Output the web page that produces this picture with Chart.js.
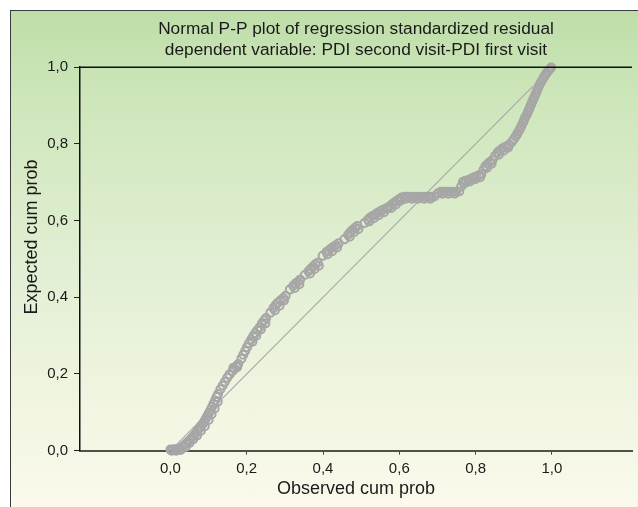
<!DOCTYPE html>
<html>
<head>
<meta charset="utf-8">
<script src="https://cdn.jsdelivr.net/npm/chart.js@4.4.1/dist/chart.umd.min.js"></script>
<style>
  html, body { margin: 0; padding: 0; overflow: hidden; background: #fff; }
  #frame {
    position: absolute; left: 10px; top: 10px;
    width: 700px; height: 520px;
    border: 1px solid #3c3c3c;
    background: linear-gradient(#bedea9 0%, #d0e7bd 20%, #e2efd4 50%, #f3f6e3 80%, #fdfbef 100%);
  }
  #chart { position: absolute; left: 0; top: 0; }
</style>
</head>
<body>
<div id="frame"><canvas id="chart" width="627" height="496"></canvas></div>
<script>
// titles
var titleLines = [
    "Normal P-P plot of regression standardized residual",
    "dependent variable: PDI second visit-PDI first visit"
];
var xTitle = "Observed cum prob";
var yTitle = "Expected cum prob";

// tick values and labels
var xTickValues = [0, 0.2, 0.4, 0.6, 0.8, 1.0];
var yTickValues = [0, 0.2, 0.4, 0.6, 0.8, 1.0];
var tickLabels = ["0,0", "0,2", "0,4", "0,6", "0,8", "1,0"];

// reference diagonal
var refLine = [0.01, 0.95];

// points (the last rows are the overlapping ones inside the solid clumps)
var observed = [
    0.000, 0.006, 0.012, 0.018, 0.024, 0.030, 0.036, 0.041, 0.046, 0.051, 0.056, 0.061, 0.066, 0.071,
    0.076, 0.080, 0.085, 0.089, 0.093, 0.097, 0.101, 0.105, 0.109, 0.113, 0.117, 0.121, 0.125,
    0.131, 0.137, 0.143, 0.149, 0.155, 0.163, 0.168, 0.173, 0.178,
    0.186, 0.191, 0.196, 0.201, 0.206, 0.212, 0.217, 0.222, 0.228, 0.234, 0.240, 0.246, 0.251,
    0.262, 0.270, 0.276, 0.282, 0.289, 0.296, 0.302, 0.313, 0.322, 0.328, 0.334, 0.340,
    0.352, 0.362, 0.368, 0.374, 0.380, 0.386, 0.399, 0.409, 0.415, 0.421, 0.428, 0.434, 0.441,
    0.456, 0.466, 0.472, 0.478, 0.484, 0.490, 0.509, 0.518, 0.524, 0.530, 0.537, 0.543, 0.550, 0.557,
    0.576, 0.582, 0.588, 0.594, 0.600, 0.606,
    0.613, 0.621, 0.629, 0.637, 0.645, 0.653, 0.661, 0.669, 0.677, 0.685, 0.692,
    0.701, 0.709, 0.717, 0.725, 0.733, 0.741, 0.749, 0.757,
    0.762, 0.767, 0.774, 0.781, 0.788, 0.795, 0.802, 0.809, 0.815,
    0.821, 0.826, 0.832, 0.838, 0.844, 0.851, 0.858, 0.864, 0.870, 0.876, 0.882, 0.888,
    0.895, 0.900, 0.905, 0.909, 0.913, 0.917, 0.920, 0.924, 0.927, 0.930, 0.934, 0.937, 0.940,
    0.943, 0.946, 0.949, 0.952, 0.955, 0.958, 0.961, 0.964, 0.967, 0.971, 0.975, 0.979, 0.983,
    0.987, 0.991, 0.995, 0.998,
    0.003, 0.015, 0.027, 0.040, 0.050, 0.060, 0.070, 0.080, 0.090, 0.100, 0.108, 0.116, 0.124,
    0.165, 0.175, 0.215, 0.225, 0.237, 0.249, 0.274, 0.286, 0.298, 0.326, 0.338,
    0.366, 0.378, 0.389, 0.412, 0.424, 0.437, 0.470, 0.482, 0.493,
    0.521, 0.533, 0.546, 0.560, 0.566, 0.570, 0.579, 0.591, 0.603,
    0.617, 0.633, 0.649, 0.665, 0.681, 0.713, 0.729, 0.745,
    0.771, 0.785, 0.799, 0.812, 0.830, 0.842, 0.861, 0.873, 0.885
];
var expected = [
    0.003, 0.003, 0.004, 0.004, 0.006, 0.009, 0.014, 0.018, 0.023, 0.028, 0.033, 0.039, 0.045, 0.052,
    0.058, 0.064, 0.070, 0.077, 0.084, 0.091, 0.098, 0.106, 0.114, 0.122, 0.131, 0.140, 0.148,
    0.160, 0.170, 0.180, 0.190, 0.199, 0.208, 0.214, 0.220, 0.226,
    0.240, 0.250, 0.260, 0.270, 0.280, 0.290, 0.298, 0.306, 0.314, 0.322, 0.332, 0.340, 0.346,
    0.360, 0.372, 0.380, 0.386, 0.392, 0.398, 0.404, 0.420, 0.430, 0.436, 0.440, 0.446,
    0.458, 0.468, 0.474, 0.480, 0.486, 0.490, 0.508, 0.518, 0.522, 0.527, 0.532, 0.536, 0.541,
    0.551, 0.563, 0.570, 0.576, 0.581, 0.586, 0.594, 0.603, 0.608, 0.612, 0.616, 0.620, 0.624, 0.628,
    0.638, 0.643, 0.648, 0.652, 0.656, 0.660,
    0.662, 0.662, 0.662, 0.662, 0.662, 0.662, 0.662, 0.662, 0.662, 0.662, 0.663,
    0.671, 0.675, 0.675, 0.675, 0.675, 0.675, 0.675, 0.676,
    0.689, 0.701, 0.704, 0.706, 0.709, 0.712, 0.715, 0.718, 0.721,
    0.733, 0.742, 0.748, 0.753, 0.758, 0.768, 0.778, 0.783, 0.788, 0.791, 0.794, 0.798,
    0.805, 0.812, 0.819, 0.826, 0.833, 0.840, 0.847, 0.855, 0.862, 0.869, 0.876, 0.883, 0.890,
    0.897, 0.904, 0.911, 0.918, 0.925, 0.932, 0.939, 0.946, 0.953, 0.960, 0.967, 0.974, 0.980,
    0.986, 0.991, 0.995, 0.999,
    0.000, 0.000, 0.002, 0.010, 0.020, 0.030, 0.040, 0.052, 0.064, 0.080, 0.095, 0.110, 0.128,
    0.216, 0.218, 0.284, 0.300, 0.316, 0.332, 0.366, 0.378, 0.392, 0.424, 0.434,
    0.462, 0.474, 0.482, 0.512, 0.520, 0.530, 0.558, 0.570, 0.578,
    0.598, 0.606, 0.614, 0.622, 0.632, 0.633, 0.633, 0.642, 0.652,
    0.657, 0.657, 0.657, 0.657, 0.657, 0.670, 0.670, 0.670,
    0.697, 0.702, 0.708, 0.713, 0.738, 0.748, 0.772, 0.782, 0.790
];

var FONT = "'Liberation Sans', Arial, Helvetica, sans-serif";
var INK = "#1a1a1a";
var DOT = "#a6a6a6";

var points = observed.map(function (x, i) { return { x: x, y: expected[i] }; });

function fmt(v) {
    var i = xTickValues.indexOf(Math.round(v * 10) / 10);
    return i >= 0 ? tickLabels[i] : "";
}

// top line of the plot frame + rotated y title
var framePlugin = {
    id: "frameTop",
    afterDraw: function (chart) {
        var a = chart.chartArea, ctx = chart.ctx;
        ctx.save();
        ctx.strokeStyle = "#111";
        ctx.lineWidth = 1.5;
        ctx.beginPath();
        ctx.moveTo(a.left, a.top);
        ctx.lineTo(a.right, a.top);
        ctx.stroke();
        // y title sits a bit above the middle of the axis in the original
        ctx.translate(21, a.top + (a.bottom - a.top) * 0.443);
        ctx.rotate(-Math.PI / 2);
        ctx.fillStyle = INK;
        ctx.font = "18px " + FONT;
        ctx.textAlign = "center";
        ctx.textBaseline = "middle";
        ctx.fillText(yTitle, 0, 0);
        ctx.restore();
    }
};

var ctx = document.getElementById("chart");
var myChart = new Chart(ctx, {
    type: "scatter",
    data: {
        datasets: [{
            type: "line",
            data: [{ x: refLine[0], y: refLine[0] }, { x: refLine[1], y: refLine[1] }],
            borderColor: "#a9a9a9",
            borderWidth: 1.2,
            pointRadius: 0,
            order: 2
        }, {
            data: points,
            pointRadius: 4,
            borderWidth: 2,
            pointBorderColor: DOT,
            pointBackgroundColor: "rgba(0,0,0,0)",
            clip: 6,
            order: 1
        }]
    },
    options: {
        responsive: false,
        animation: false,
        layout: { padding: { top: 0, left: 0, right: 5, bottom: 0 } },
        plugins: {
            legend: { display: false },
            tooltip: { enabled: false },
            title: {
                display: true,
                fullSize: false,
                text: titleLines,
                color: INK,
                font: { family: FONT, size: 17.3, weight: "normal", lineHeight: 1.21 },
                padding: { top: 7.5, bottom: 6.8 }
            }
        },
        scales: {
            x: {
                type: "linear",
                min: -0.237,
                max: 1.21,
                afterFit: function (s) { s.height = 56.3; },
                afterBuildTicks: function (s) {
                    s.ticks = xTickValues.map(function (v) { return { value: v }; });
                },
                ticks: {
                    callback: fmt,
                    color: INK,
                    padding: 5,
                    maxRotation: 0,
                    font: { family: FONT, size: 15 }
                },
                grid: { drawOnChartArea: false, tickLength: 4, color: "#444", tickWidth: 1 },
                border: { color: "#50524a", width: 2 },
                title: {
                    display: true,
                    text: xTitle,
                    color: INK,
                    font: { family: FONT, size: 18 },
                    padding: { top: 0, bottom: 6.7 }
                }
            },
            y: {
                type: "linear",
                min: 0,
                max: 1,
                afterFit: function (s) { s.width = 69; },
                afterBuildTicks: function (s) {
                    s.ticks = yTickValues.map(function (v) { return { value: v }; });
                },
                ticks: {
                    callback: fmt,
                    color: INK,
                    padding: 6,
                    font: { family: FONT, size: 15 }
                },
                grid: { drawOnChartArea: false, tickLength: 6, color: "#222", tickWidth: 1 },
                border: { color: "#111", width: 1.5 }
            }
        }
    },
    plugins: [framePlugin]
});
</script>
</body>
</html>
